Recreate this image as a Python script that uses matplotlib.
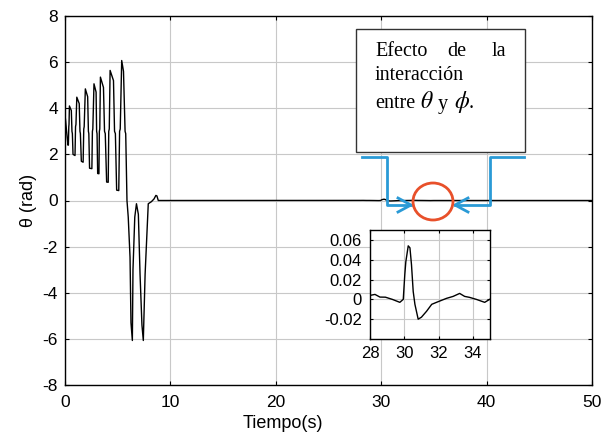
import matplotlib
matplotlib.use("Agg")
import matplotlib.pyplot as plt
from matplotlib.patches import Ellipse, Rectangle
from matplotlib.lines import Line2D

# ---------------- data ----------------
t_osc = [0.0, 0.05, 0.15, 0.28, 0.32,
         0.36, 0.38, 0.42, 0.6, 0.66, 0.70, 0.76, 0.95,
         1.0, 1.04, 1.12, 1.35, 1.42, 1.46, 1.55, 1.72,
         1.78, 1.82, 1.93, 2.15, 2.22, 2.26, 2.33, 2.55,
         2.6, 2.64, 2.75, 2.95, 3.0, 3.04, 3.1, 3.22,
         3.26, 3.3, 3.36, 3.65, 3.75, 3.82, 3.95, 4.1,
         4.15, 4.2, 4.28, 4.6, 4.7, 4.78, 4.9, 5.1,
         5.18, 5.24, 5.38, 5.55, 5.7, 5.76, 5.88,
         6.0, 6.17, 6.26, 6.39, 6.45, 6.62, 6.78,
         6.96, 7.12, 7.3, 7.43, 7.6, 7.9, 8.2, 8.45, 8.62, 8.72, 8.85]
y_osc = [3.7, 3.5, 3.0, 2.4, 2.4,
         3.2, 3.3, 4.1, 3.9, 3.0, 2.9, 2.0, 1.95,
         3.2, 3.3, 4.48, 4.2, 3.0, 2.9, 1.7, 1.66,
         3.1, 3.2, 4.84, 4.5, 3.0, 2.9, 1.4, 1.38,
         3.0, 3.1, 5.06, 4.7, 3.0, 2.9, 1.17, 1.16,
         3.0, 3.1, 5.35, 4.9, 3.0, 2.9, 0.8, 0.79,
         3.0, 3.1, 5.64, 5.2, 3.0, 2.9, 0.45, 0.43,
         3.0, 3.1, 6.07, 5.6, 3.0, 2.9, 0.0,
         -0.72, -2.46, -5.3, -6.07, -3.0, -0.72, -0.14,
         -0.6, -3.2, -5.4, -6.07, -3.2, -0.14, -0.05, 0.07, 0.22, 0.2, 0.0]

t_evt = [28.0, 28.29, 28.58, 28.9, 29.3, 29.74, 29.94, 30.03, 30.09, 30.23,
         30.33, 30.42, 30.52, 30.62, 30.81, 31.0, 31.3, 31.6, 31.88, 32.17,
         32.46, 32.85, 33.23, 33.52, 33.81, 34.2, 34.69, 34.98]
y_evt = [0.004, 0.005, 0.0023, 0.0022, 0.0, -0.003, 0.0, 0.025, 0.038, 0.054,
         0.052, 0.035, 0.008, -0.005, -0.02, -0.018, -0.012, -0.005, -0.003, -0.001,
         0.001, 0.003, 0.006, 0.003, 0.002, 0.0, -0.003, 0.0]

t_end = [50.0]
y_end = [0.0]

main_xticks = [0, 10, 20, 30, 40, 50]
main_yticks = [-8, -6, -4, -2, 0, 2, 4, 6, 8]
ins_xticks = [28, 30, 32, 34]
ins_yticks = [-0.02, 0, 0.02, 0.04, 0.06]
ins_yticklabels = ["-0.02", "0", "0.02", "0.04", "0.06"]

t_all = t_osc + t_evt + t_end
y_all = y_osc + y_evt + y_end

# ---------------- figure ----------------
W, H = 604, 442
plt.rcParams['font.family'] = ['Liberation Sans', 'DejaVu Sans']
plt.rcParams['axes.unicode_minus'] = False
plt.rcParams['mathtext.fontset'] = 'stix'
fig = plt.figure(figsize=(W / 100, H / 100), dpi=100)

def fx(px):
    return px / W

def fy(py):
    return 1 - py / H

ax = fig.add_axes([fx(65), fy(385), (592 - 65) / W, (385 - 16) / H])
ax.plot(t_all, y_all, color='black', lw=1.0)
ax.set_xlim(0, 50)
ax.set_ylim(-8, 8)
ax.set_xticks(main_xticks)
ax.set_yticks(main_yticks)
ax.grid(True, color='#c8c8c8', lw=0.8, ls='-')
ax.set_axisbelow(True)
ax.tick_params(direction='in', top=True, right=True, labelsize=12.5, length=3)
ax.tick_params(axis='x', pad=7)
ax.tick_params(axis='y', pad=5)
for s in ax.spines.values():
    s.set_linewidth(1.0)
ax.set_ylabel('θ (rad)', fontsize=13, labelpad=4)
fig.text(fx(283), fy(423), 'Tiempo(s)', fontsize=13, ha='center', va='center')

# inset
axi = fig.add_axes([fx(370), fy(339), 120 / W, 109 / H])
axi.plot(t_evt, y_evt, color='black', lw=1.0)
axi.set_xlim(28, 35)
axi.set_ylim(-0.04, 0.07)
axi.set_xticks(ins_xticks)
axi.set_yticks(ins_yticks)
axi.set_yticklabels(ins_yticklabels)
axi.grid(True, color='#c8c8c8', lw=0.8, ls='-')
axi.tick_params(direction='in', top=True, right=True, labelsize=12, length=2.5)
axi.tick_params(axis='x', pad=5)
axi.tick_params(axis='y', pad=6)
for s in axi.spines.values():
    s.set_linewidth(1.0)

# annotation box
box = Rectangle((fx(356), fy(152)), (525 - 356) / W, (152 - 29) / H,
                transform=fig.transFigure, facecolor='white', edgecolor='#333333',
                lw=1.0, zorder=5)
fig.patches.append(box)
serif = ['Liberation Serif', 'DejaVu Serif']
fs = 14.5
fig.text(fx(375), fy(52), 'Efecto', fontsize=fs, family=serif, va='center', ha='left', zorder=6)
fig.text(fx(457), fy(52), 'de', fontsize=fs, family=serif, va='center', ha='center', zorder=6)
fig.text(fx(506), fy(52), 'la', fontsize=fs, family=serif, va='center', ha='right', zorder=6)
fig.text(fx(375), fy(76), 'interacción', fontsize=fs, family=serif, va='center', ha='left', zorder=6)
fig.text(fx(375), fy(104), 'entre', fontsize=fs, family=serif, va='center', ha='left', zorder=6)
fig.text(fx(427), fy(102), '$\\theta$', fontsize=17, va='center', ha='center', zorder=6)
fig.text(fx(443), fy(104), 'y', fontsize=fs, family=serif, va='center', ha='center', zorder=6)
fig.text(fx(462), fy(102), '$\\phi$', fontsize=17, va='center', ha='center', zorder=6)
fig.text(fx(469), fy(104), '.', fontsize=fs, family=serif, va='center', ha='left', zorder=6)

# blue connectors
blue = '#2a9ad6'
def fig_line(xs, ys):
    fig.lines.append(Line2D([fx(x) for x in xs], [fy(y) for y in ys],
                            transform=fig.transFigure, color=blue, lw=2.0, zorder=6))
fig_line([362, 387, 387, 411], [157, 157, 205, 205])
fig_line([524, 490, 490, 455], [157, 157, 205, 205])
# arrow heads (open)
fig_line([398, 411, 398], [198, 205, 212])
fig_line([468, 455, 468], [198, 205, 212])

# red circle
ell = Ellipse((fx(433), fy(201.5)), 40 / W, 37 / H, transform=fig.transFigure,
              facecolor='none', edgecolor='#e8502a', lw=2.0, zorder=6)
fig.patches.append(ell)

fig.savefig('out.png', dpi=100)
